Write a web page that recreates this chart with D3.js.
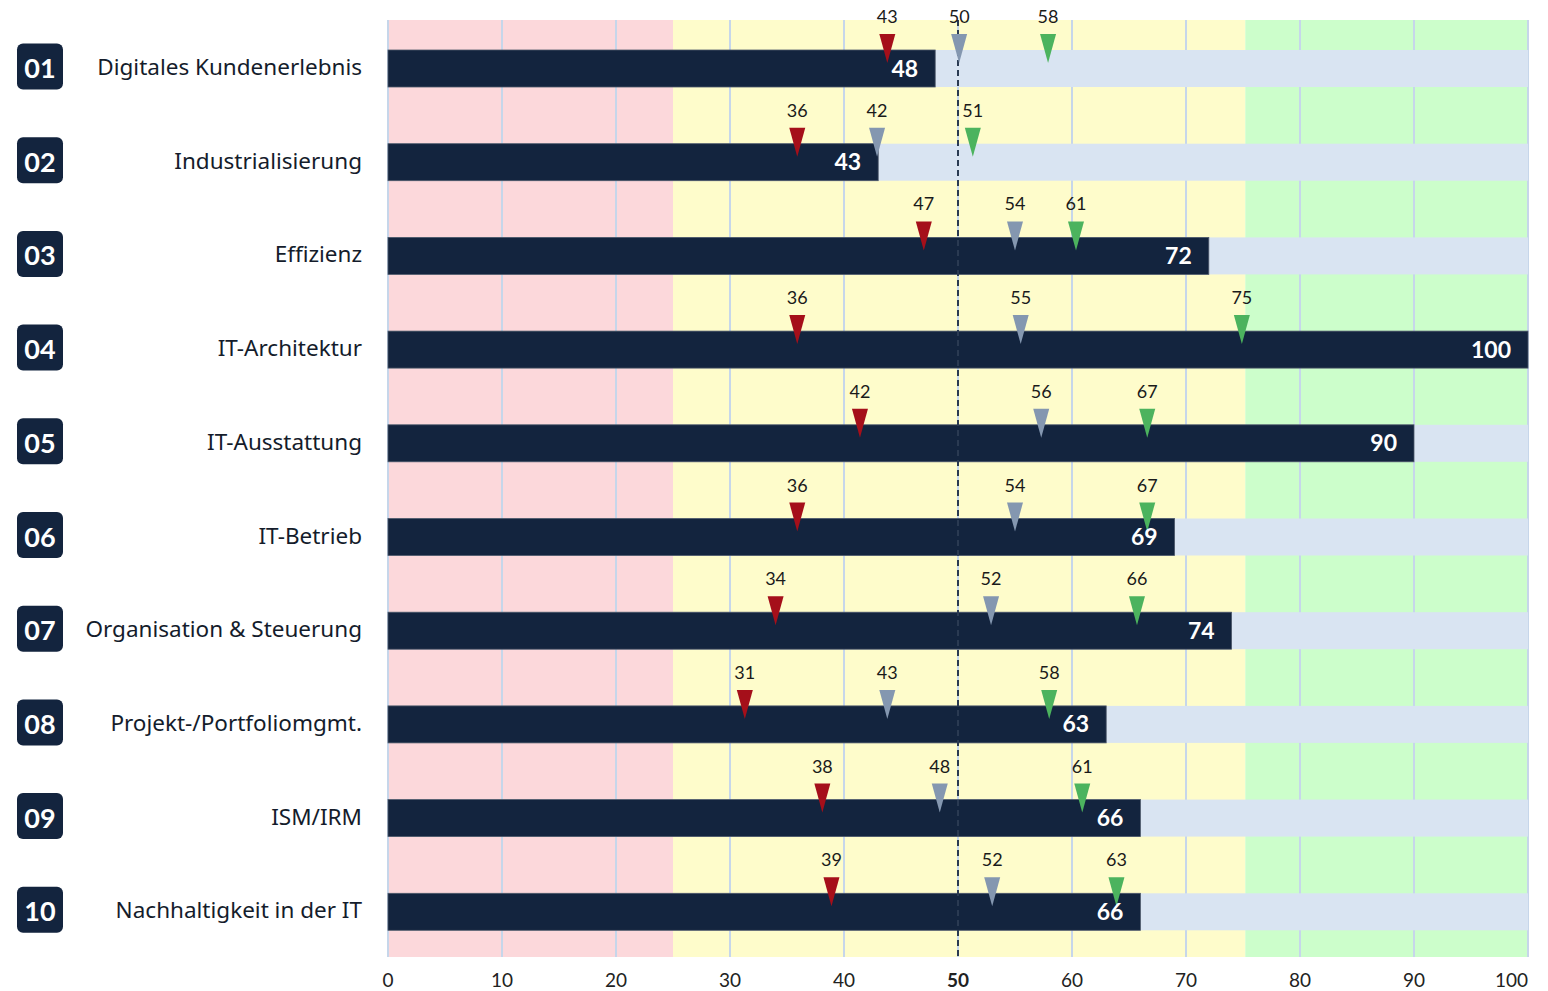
<!DOCTYPE html>
<html><head><meta charset="utf-8">
<script src="https://cdn.jsdelivr.net/npm/d3@7"></script>
<style>body{margin:0;background:#fff;}svg{display:block;}</style>
</head><body>
<svg id="chart" width="1548" height="991"></svg>
<script>
const categories = ["Digitales Kundenerlebnis","Industrialisierung","Effizienz","IT-Architektur","IT-Ausstattung","IT-Betrieb","Organisation & Steuerung","Projekt-/Portfoliomgmt.","ISM/IRM","Nachhaltigkeit in der IT"];
const badges = ["01","02","03","04","05","06","07","08","09","10"];
const values = [48,43,72,100,90,69,74,63,66,66];
const redPos = [43.8,35.9,47.0,35.9,41.4,35.9,34.0,31.3,38.1,38.9];
const redLabels = [43,36,47,36,42,36,34,31,38,39];
const grayPos = [50.1,42.9,55.0,55.5,57.3,55.0,52.9,43.8,48.4,53.0];
const grayLabels = [50,42,54,55,56,54,52,43,48,52];
const greenPos = [57.9,51.3,60.35,74.9,66.6,66.6,65.7,58.0,60.9,63.9];
const greenLabels = [58,51,61,75,67,67,66,58,61,63];
const zones = [{from:0,to:25,color:"#fcd8db"},{from:25,to:75.2,color:"#fefccb"},{from:75.2,to:100,color:"#ccfecb"}];
const ticks = [0,10,20,30,40,50,60,70,80,90,100];

const svg = d3.select("#chart");
const font = "Lato, 'Noto Sans', sans-serif";
const catFont = "'Noto Sans', sans-serif";
const x = d3.scaleLinear().domain([0,100]).range([388,1528]);
const y = d3.scaleBand().domain(categories).range([20,957]);
const barOff = 30, barH = 37;

// zones
svg.selectAll("rect.zone").data(zones).enter().append("rect")
  .attr("x", d=>x(d.from)).attr("width", d=>x(d.to)-x(d.from))
  .attr("y",20).attr("height",937).attr("fill",d=>d.color);
// gridlines
svg.selectAll("line.grid").data(ticks).enter().append("line")
  .attr("x1",d=>x(d)).attr("x2",d=>x(d)).attr("y1",20).attr("y2",957)
  .attr("stroke","#c6d6ea").attr("stroke-width",2);
// tracks
svg.selectAll("rect.track").data(categories).enter().append("rect")
  .attr("x",x(0)).attr("width",x(100)-x(0))
  .attr("y",d=>y(d)+barOff).attr("height",barH).attr("fill","#d9e4f2");
// bars
svg.selectAll("rect.bar").data(categories).enter().append("rect")
  .attr("x",x(0)).attr("width",(d,i)=>x(values[i])-x(0))
  .attr("y",d=>y(d)+barOff).attr("height",barH).attr("fill","#13243e")
  .attr("stroke","#4d5869").attr("stroke-width",0.8);
// dashed 50 line
svg.append("line").attr("x1",x(50)).attr("x2",x(50)).attr("y1",20).attr("y2",957)
  .attr("stroke","#2a3a52").attr("stroke-width",2).attr("stroke-dasharray","6,4");

// markers
const markerSets = [
  {pos:redPos, labels:redLabels, color:"#a50f1a"},
  {pos:grayPos, labels:grayLabels, color:"#8497b0"},
  {pos:greenPos, labels:greenLabels, color:"#4cb35e"}
];
markerSets.forEach(ms=>{
  categories.forEach((c,i)=>{
    const top = y(c)+barOff;
    const cx = x(ms.pos[i]);
    svg.append("path")
      .attr("d",`M${cx-8},${top-16} L${cx+8},${top-16} L${cx},${top+13} Z`)
      .attr("fill",ms.color);
  });
});
// value labels inside bars
svg.selectAll("text.val").data(categories).enter().append("text")
  .attr("x",(d,i)=>x(values[i])-17).attr("y",d=>y(d)+barOff+barH/2+8)
  .attr("text-anchor","end").attr("fill","#fff").attr("font-weight","bold")
  .attr("font-family",font).attr("font-size",23).text((d,i)=>values[i]);
// marker labels
markerSets.forEach(ms=>{
  categories.forEach((c,i)=>{
    const top = y(c)+barOff;
    svg.append("text").attr("x",x(ms.pos[i])).attr("y",top-34)
      .attr("dominant-baseline","central").attr("text-anchor","middle")
      .attr("font-family",font).attr("font-size",18).attr("fill","#1a1a1a")
      .text(ms.labels[i]);
  });
});
// category labels
svg.selectAll("text.cat").data(categories).enter().append("text")
  .attr("x",362).attr("y",d=>y(d)+barOff+barH/2-2)
  .attr("dominant-baseline","central").attr("text-anchor","end")
  .attr("font-family",catFont).attr("font-size",22.5).attr("fill","#141c2b").text(d=>d);
// badges
const bg = svg.selectAll("g.badge").data(categories).enter().append("g")
  .attr("transform",d=>`translate(17,${y(d)+barOff+barH/2-2-23})`);
bg.append("rect").attr("width",46).attr("height",46).attr("rx",6).attr("fill","#13243e");
bg.append("text").attr("x",23).attr("y",24).attr("dominant-baseline","central")
  .attr("text-anchor","middle").attr("fill","#fff").attr("font-weight","bold")
  .attr("font-family",font).attr("font-size",27).text((d,i)=>badges[i]);
// axis tick labels
svg.selectAll("text.tick").data(ticks).enter().append("text")
  .attr("x",d=>x(d)).attr("y",979)
  .attr("dominant-baseline","central")
  .attr("text-anchor",d=>d===100?"end":"middle")
  .attr("font-family",font).attr("font-size",19).attr("fill","#222")
  .attr("font-weight",d=>d===50?"bold":"normal").text(d=>d);
</script>
</body></html>
